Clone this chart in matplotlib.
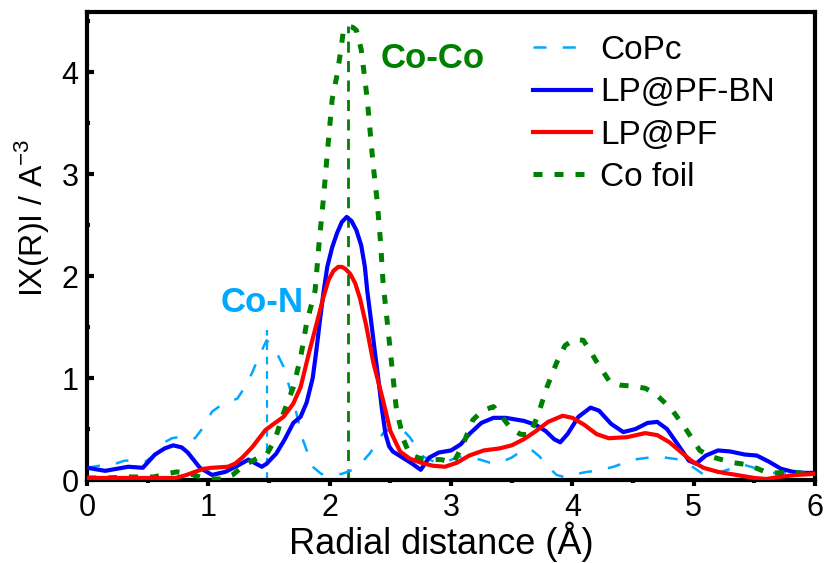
import matplotlib
matplotlib.use("Agg")
import matplotlib.pyplot as plt
from matplotlib.ticker import MultipleLocator

plt.rcParams['font.family'] = ['Liberation Sans', 'DejaVu Sans']
plt.rcParams['mathtext.fontset'] = 'custom'
plt.rcParams['mathtext.rm'] = 'Liberation Sans'

# ---- FT-EXAFS magnitude data, |X(R)| vs R (Angstrom) ----
copc_r = [0.00, 0.10, 0.21, 0.31, 0.40, 0.48, 0.56, 0.64, 0.70, 0.75, 0.82, 0.89,
          0.96, 1.03, 1.10, 1.16, 1.24, 1.30, 1.36, 1.42, 1.48, 1.55, 1.62, 1.70,
          1.78, 1.86, 1.93, 2.00, 2.10, 2.19, 2.27, 2.33, 2.44, 2.52, 2.58, 2.66,
          2.77, 2.86, 2.94, 3.07, 3.15, 3.24, 3.32, 3.40, 3.50, 3.60, 3.66, 3.73,
          3.80, 3.87, 3.93, 4.00, 4.12, 4.20, 4.34, 4.50, 4.70, 4.89, 4.99, 5.11,
          5.25, 5.41, 5.50, 5.60, 5.72, 5.85, 6.00]
copc_chi = [0.12, 0.14, 0.15, 0.19, 0.19, 0.18, 0.25, 0.37, 0.41, 0.42, 0.40, 0.41,
            0.52, 0.67, 0.73, 0.76, 0.80, 0.91, 1.05, 1.22, 1.37, 1.28, 1.11, 0.78,
            0.39, 0.13, 0.06, 0.05, 0.06, 0.10, 0.18, 0.26, 0.46, 0.52, 0.52, 0.42,
            0.23, 0.18, 0.17, 0.23, 0.22, 0.20, 0.17, 0.17, 0.22, 0.30, 0.30, 0.23,
            0.13, 0.05, 0.03, 0.05, 0.08, 0.09, 0.13, 0.20, 0.23, 0.20, 0.13, 0.03,
            0.09, 0.15, 0.12, 0.07, 0.07, 0.07, 0.06]

bn_r = [0.00, 0.15, 0.34, 0.46, 0.56, 0.64, 0.71, 0.78, 0.83, 0.93, 1.03, 1.14,
        1.24, 1.33, 1.44, 1.48, 1.56, 1.63, 1.70, 1.76, 1.81, 1.86, 1.89, 1.92,
        1.95, 1.98, 2.02, 2.06, 2.10, 2.14, 2.18, 2.22, 2.26, 2.29, 2.31, 2.34,
        2.37, 2.40, 2.43, 2.46, 2.49, 2.52, 2.60, 2.68, 2.75, 2.82,
        2.90, 3.00, 3.08, 3.15, 3.25, 3.35, 3.45, 3.60, 3.70, 3.78, 3.85, 3.90,
        3.96, 4.05, 4.15, 4.22, 4.32, 4.42, 4.52, 4.62, 4.70, 4.78, 4.88, 4.96,
        5.02, 5.10, 5.20, 5.30, 5.42, 5.52, 5.62, 5.72, 5.82, 5.92, 6.00]
bn_chi = [0.12, 0.09, 0.13, 0.12, 0.25, 0.31, 0.34, 0.32, 0.27, 0.12, 0.05, 0.08,
          0.14, 0.20, 0.13, 0.16, 0.26, 0.40, 0.56, 0.62, 0.76, 1.00, 1.27, 1.57,
          1.85, 2.09, 2.28, 2.42, 2.53, 2.58, 2.54, 2.45, 2.30, 2.09, 1.85, 1.57,
          1.28, 1.00, 0.70, 0.45, 0.33, 0.28, 0.22, 0.16, 0.10, 0.22,
          0.27, 0.29, 0.35, 0.45, 0.56, 0.61, 0.61, 0.58, 0.54, 0.48, 0.40, 0.37,
          0.45, 0.62, 0.71, 0.68, 0.55, 0.47, 0.50, 0.56, 0.57, 0.50, 0.33, 0.19,
          0.16, 0.24, 0.29, 0.28, 0.25, 0.24, 0.18, 0.11, 0.08, 0.07, 0.07]

pf_r = [0.00, 0.20, 0.40, 0.60, 0.73, 0.82, 0.89, 0.96, 1.03, 1.16, 1.22, 1.28,
        1.36, 1.47, 1.55, 1.62, 1.70, 1.76, 1.83, 1.90, 1.95, 1.99, 2.03, 2.07,
        2.10, 2.13, 2.17, 2.21, 2.25, 2.30, 2.36, 2.44, 2.50, 2.58, 2.66, 2.75,
        2.85, 2.95, 3.05, 3.15, 3.27, 3.40, 3.50, 3.60, 3.70, 3.80, 3.92, 4.00,
        4.10, 4.20, 4.30, 4.45, 4.60, 4.70, 4.80, 4.90, 4.98, 5.08, 5.20, 5.35,
        5.50, 5.60, 5.70, 5.85, 6.00]
pf_chi = [0.02, 0.02, 0.02, 0.02, 0.02, 0.05, 0.08, 0.11, 0.12, 0.13, 0.16, 0.22,
          0.32, 0.49, 0.56, 0.62, 0.75, 0.91, 1.25, 1.57, 1.80, 1.96, 2.05, 2.09,
          2.09, 2.07, 2.02, 1.93, 1.78, 1.52, 1.15, 0.78, 0.48, 0.28, 0.21, 0.17,
          0.14, 0.13, 0.17, 0.24, 0.29, 0.31, 0.34, 0.40, 0.48, 0.57, 0.63, 0.61,
          0.54, 0.45, 0.41, 0.42, 0.46, 0.44, 0.37, 0.27, 0.19, 0.12, 0.08, 0.05,
          0.02, 0.01, 0.03, 0.05, 0.06]

foil_r = [0.00, 0.15, 0.36, 0.55, 0.65, 0.74, 0.85, 0.93, 1.03, 1.12, 1.20, 1.30,
          1.40, 1.48, 1.55, 1.62, 1.70, 1.76, 1.81, 1.88, 1.91, 1.95, 1.98, 2.02,
          2.06, 2.09, 2.11, 2.15, 2.19, 2.22, 2.26, 2.31, 2.33, 2.36, 2.39, 2.42,
          2.44, 2.47, 2.55, 2.61, 2.66, 2.75, 2.83, 2.92, 3.02, 3.10, 3.18, 3.26,
          3.35, 3.42, 3.49, 3.57, 3.65, 3.72, 3.79, 3.87, 3.94, 4.02, 4.09, 4.15,
          4.20, 4.31, 4.40, 4.50, 4.60, 4.68, 4.76, 4.82, 4.93, 5.05, 5.14, 5.23,
          5.33, 5.44, 5.53, 5.61, 5.70, 5.82, 5.92, 6.00]
foil_chi = [0.02, 0.02, 0.03, 0.03, 0.06, 0.08, 0.06, 0.03, 0.01, 0.01, 0.05, 0.15,
            0.21, 0.25, 0.40, 0.66, 0.91, 1.20, 1.54, 1.86, 2.29, 2.78, 3.20, 3.73,
            3.97, 4.20, 4.38, 4.45, 4.44, 4.41, 4.22, 3.73, 3.46, 3.07, 2.75, 2.32,
            1.93, 1.60, 0.69, 0.39, 0.25, 0.21, 0.20, 0.20, 0.17, 0.35, 0.59, 0.68,
            0.72, 0.62, 0.51, 0.45, 0.44, 0.65, 0.91, 1.15, 1.32, 1.38, 1.37, 1.26,
            1.16, 0.96, 0.93, 0.92, 0.90, 0.85, 0.76, 0.69, 0.51, 0.29, 0.23, 0.20,
            0.17, 0.15, 0.11, 0.07, 0.07, 0.08, 0.06, 0.05]

# peak markers: (position, height)
con_peak = (1.48, 1.47)
coco_peak = (2.15, 4.45)

c_copc = '#00A8FF'
c_bn = '#0000FF'
c_pf = '#FF0000'
c_foil = '#008000'

fig = plt.figure(figsize=(8.25, 5.63), dpi=100)
ax = fig.add_axes([0.1055, 0.1474, 0.8824, 0.8313])

# reference lines for the Co-N and Co-Co shells
ax.plot([con_peak[0], con_peak[0]], [0, con_peak[1]], color=c_copc, lw=1.6,
        dashes=(3.5, 3.0), zorder=1)
ax.plot([coco_peak[0], coco_peak[0]], [0, coco_peak[1]], color=c_foil, lw=2.0,
        dashes=(4.0, 3.0), zorder=1)

ax.plot(copc_r, copc_chi, color=c_copc, lw=1.8, dashes=(5.2, 6.5), label='CoPc', zorder=2)
ax.plot(bn_r, bn_chi, color=c_bn, lw=3.0, label='LP@PF-BN', zorder=3,
        solid_joinstyle='round')
ax.plot(pf_r, pf_chi, color=c_pf, lw=3.0, label='LP@PF', zorder=4,
        solid_joinstyle='round')
ax.plot(foil_r, foil_chi, color=c_foil, lw=3.6, dashes=(1.8, 2.4),
        dash_capstyle='butt', label='Co foil', zorder=3)

ax.text(1.44, 1.745, 'Co-N', color=c_copc, fontsize=25, fontweight='bold',
        ha='center', va='center')
ax.text(2.845, 4.13, 'Co-Co', color=c_foil, fontsize=25, fontweight='bold',
        ha='center', va='center')

ax.set_xlim(0, 6)
ax.set_ylim(0, 4.59)
ax.xaxis.set_major_locator(MultipleLocator(1))
ax.xaxis.set_minor_locator(MultipleLocator(0.5))
ax.yaxis.set_major_locator(MultipleLocator(1))
ax.yaxis.set_minor_locator(MultipleLocator(0.5))

for s in ax.spines.values():
    s.set_linewidth(3.0)
ax.tick_params(axis='x', which='major', direction='out', length=4, width=3,
               labelsize=22, pad=5)
ax.tick_params(axis='x', which='minor', direction='out', length=2.5, width=3)
ax.tick_params(axis='y', which='major', direction='in', length=5, width=3,
               labelsize=22, pad=6)
ax.tick_params(axis='y', which='minor', direction='in', length=2.5, width=3)

ax.set_xlabel('Radial distance (Å)', fontsize=26)
ax.xaxis.set_label_coords(0.486, -0.088)
ax.set_ylabel(r'IX(R)I / A$^{\mathregular{-3}}$', fontsize=23)
ax.yaxis.set_label_coords(-0.05, 0.56)

leg = ax.legend(loc='upper left', bbox_to_anchor=(0.612, 0.951), frameon=False,
                fontsize=24, handlelength=1.75, handletextpad=0.28,
                labelspacing=0.34, borderpad=0, borderaxespad=0)

fig.savefig('out.png', dpi=100)
